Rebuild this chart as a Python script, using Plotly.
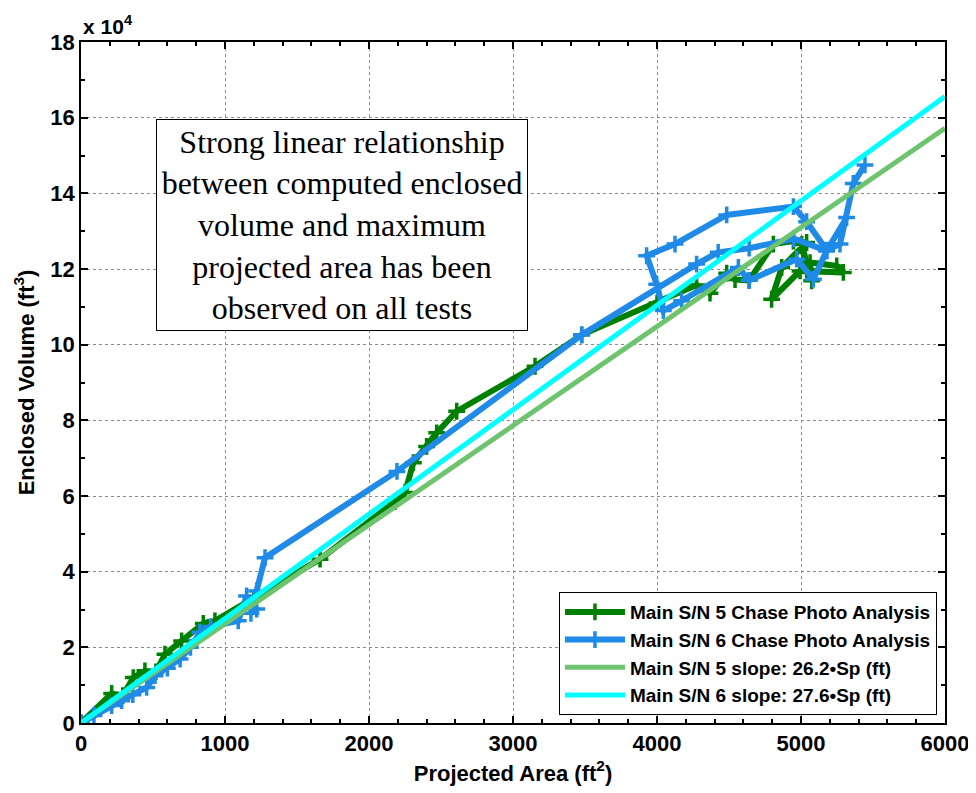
import plotly.graph_objects as go

# ---- data ----
sn5_area = [0, 213, 290, 363, 444, 520, 583, 699, 849, 930, 1200, 1660, 2180, 2250, 2308, 2400, 2470, 2609, 3153, 3477,
            4000, 4275, 4368, 4484, 4542, 4640, 4808, 4947, 5039, 4866, 4796, 4993, 5294, 5248, 5063, 5074, 5005, 5039]
sn5_vol = [0, 7800, 7200, 12000, 13800, 13500, 18200, 21700, 26300, 27000, 33000, 43300, 58500, 60900, 68800, 73100, 76700, 82400, 94300, 102600,
           111000, 115800, 113600, 118900, 117200, 117000, 126600, 127400, 127000, 120400, 112000, 119500, 119100, 120800, 121700, 116900, 126500, 119800]

sn6_area = [0, 90, 213, 282, 360, 456, 514, 600, 688, 760, 826, 900, 1092, 1150, 1220, 1180, 1220, 1278, 2194, 3477,
            4275, 4425, 4640, 4950, 5178, 5317, 5178, 5086, 4970, 4640, 4565, 4171, 4044, 3998, 3928, 4125, 4484, 4947, 5039,
            5178, 5271, 5363, 5444]
sn6_vol = [0, 2000, 4600, 5900, 7500, 9400, 12500, 14500, 16900, 20000, 24000, 25500, 27000, 33600, 30100, 29000, 34900, 43700, 66500, 102600,
           121300, 124400, 125500, 128000, 124800, 133600, 124800, 117300, 122600, 117000, 120400, 111600, 109000, 116000, 123500, 126600, 134300, 136500, 132500,
           125000, 126600, 142600, 147500]

fit_area = [0, 6000]
fit5_vol = [0, 157200]   # 26.2 * Sp
fit6_vol = [0, 165600]   # 27.6 * Sp

x_ticks = [0, 1000, 2000, 3000, 4000, 5000, 6000]
y_ticks = [0, 20000, 40000, 60000, 80000, 100000, 120000, 140000, 160000, 180000]
y_ticklabels = ["0", "2", "4", "6", "8", "10", "12", "14", "16", "18"]

names = ["Main S/N 5 Chase Photo Analysis", "Main S/N 6 Chase Photo Analysis",
         "Main S/N 5 slope: 26.2\u2022Sp (ft)", "Main S/N 6 slope: 27.6\u2022Sp (ft)"]

FONT = "Liberation Sans, Arial, sans-serif"

fig = go.Figure()
fig.add_trace(go.Scatter(x=sn5_area, y=sn5_vol, mode="lines+markers", name=names[0],
                         line=dict(color="#008000", width=6),
                         marker=dict(symbol="cross-thin", size=12, color="#008000",
                                     line=dict(color="#008000", width=3.5))))
fig.add_trace(go.Scatter(x=sn6_area, y=sn6_vol, mode="lines+markers", name=names[1],
                         line=dict(color="#1F8AE8", width=6),
                         marker=dict(symbol="cross-thin", size=12, color="#1F8AE8",
                                     line=dict(color="#1F8AE8", width=3.5))))
fig.add_trace(go.Scatter(x=fit_area, y=fit5_vol, mode="lines", name=names[2],
                         line=dict(color="#6EC46E", width=5)))
fig.add_trace(go.Scatter(x=fit_area, y=fit6_vol, mode="lines", name=names[3],
                         line=dict(color="#00FFFF", width=5)))

axis_common = dict(showline=True, linecolor="black", linewidth=1.5, mirror="allticks",
                   ticks="inside", ticklen=7, tickcolor="black", tickwidth=1.5,
                   showgrid=True, gridcolor="#8c8c8c", griddash="dot", gridwidth=1,
                   zeroline=False, automargin=False,
                   tickfont=dict(family=FONT, size=22, color="black", weight="bold"))

fig.update_xaxes(range=[0, 6000], tickvals=x_ticks, **axis_common,
                 minor=dict(dtick=200, ticks="inside", ticklen=4, tickcolor="black", showgrid=False),
                 title=dict(text="Projected Area (ft<sup>2</sup>)", standoff=10,
                            font=dict(family=FONT, size=22, color="black", weight="bold")))
fig.update_yaxes(range=[0, 180000], tickvals=y_ticks, ticktext=y_ticklabels, **axis_common,
                 minor=dict(dtick=10000, ticks="inside", ticklen=4, tickcolor="black", showgrid=False),
                 title=dict(text="Enclosed Volume (ft<sup>3</sup>)", standoff=10,
                            font=dict(family=FONT, size=22, color="black", weight="bold")))

fig.add_annotation(xref="paper", yref="paper", x=0.0, y=1.025, xanchor="left", yanchor="middle",
                   text="x 10<sup>4</sup>", showarrow=False,
                   font=dict(family=FONT, size=21, color="black", weight="bold"))

fig.add_annotation(xref="paper", yref="paper", x=0.3025, y=0.7313, xanchor="center", yanchor="middle",
                   text="Strong linear relationship<br>between computed enclosed<br>volume and maximum<br>"
                        "projected area has been<br>observed on all tests",
                   showarrow=False, align="center", valign="middle",
                   width=368, height=208, bgcolor="white", bordercolor="black", borderwidth=1,
                   font=dict(family="Liberation Serif, Times New Roman, serif", size=32, color="black"))

# page has an ~8px body offset; compensate so the plot area lands at 81..945 x 42..723
fig.update_layout(
    width=968, height=785,
    margin=dict(l=73, r=31, t=34, b=70),
    plot_bgcolor="white", paper_bgcolor="white",
    legend=dict(x=0.9907, y=0.0117, xanchor="right", yanchor="bottom",
                bgcolor="white", bordercolor="black", borderwidth=1,
                font=dict(family=FONT, size=19, color="black", weight="bold"),
                tracegroupgap=0, itemwidth=60),
)

fig.write_html("out.html")
